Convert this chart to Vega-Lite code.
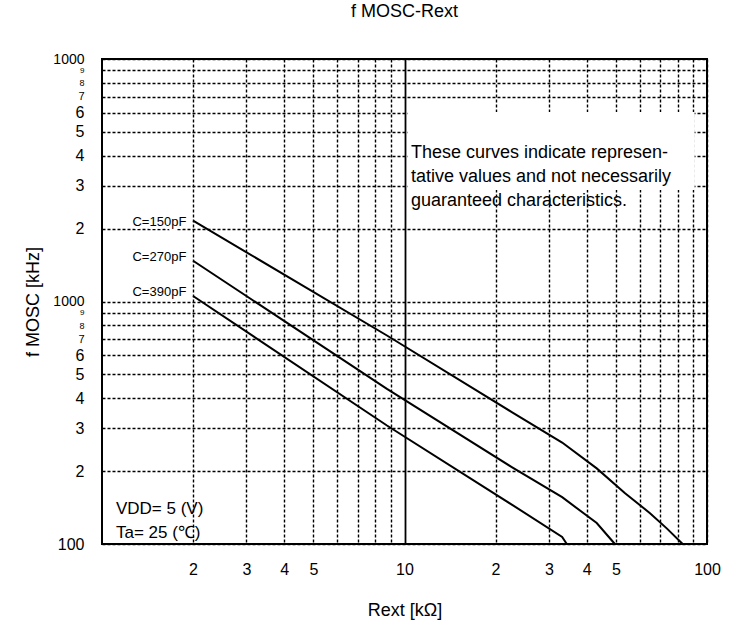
{
  "$schema": "https://vega.github.io/schema/vega-lite/v6.json",
  "width": 605,
  "height": 485,
  "autosize": {"type": "none"},
  "padding": {"left": 102, "top": 59, "right": 23, "bottom": 89},
  "background": "white",
  "config": {
    "font": "Liberation Sans",
    "view": {"stroke": "black", "strokeWidth": 2}
  },
  "title": {
    "text": "f MOSC-Rext",
    "fontSize": 18,
    "fontWeight": "normal",
    "font": "Liberation Sans",
    "color": "black",
    "anchor": "middle",
    "frame": "group",
    "offset": 31
  },
  "datasets": {
    "curves": [
      {"series": "C=150pF", "x": 2.0, "y": 2154},
      {"series": "C=150pF", "x": 8.75, "y": 724},
      {"series": "C=150pF", "x": 22.7, "y": 349},
      {"series": "C=150pF", "x": 33.2, "y": 262},
      {"series": "C=150pF", "x": 43.2, "y": 205},
      {"series": "C=150pF", "x": 53.6, "y": 162},
      {"series": "C=150pF", "x": 64.8, "y": 134},
      {"series": "C=150pF", "x": 73.6, "y": 116},
      {"series": "C=150pF", "x": 83.1, "y": 100},
      {"series": "C=270pF", "x": 2.0, "y": 1473},
      {"series": "C=270pF", "x": 8.75, "y": 436},
      {"series": "C=270pF", "x": 22.7, "y": 207},
      {"series": "C=270pF", "x": 33.2, "y": 156},
      {"series": "C=270pF", "x": 43.2, "y": 122},
      {"series": "C=270pF", "x": 49.6, "y": 100},
      {"series": "C=390pF", "x": 2.0, "y": 1054},
      {"series": "C=390pF", "x": 8.75, "y": 308},
      {"series": "C=390pF", "x": 22.7, "y": 145},
      {"series": "C=390pF", "x": 33.2, "y": 107},
      {"series": "C=390pF", "x": 34.4, "y": 100}
    ],
    "labels": [
      {"text": "C=150pF", "x": 1.9, "y": 2127},
      {"text": "C=270pF", "x": 1.9, "y": 1526},
      {"text": "C=390pF", "x": 1.9, "y": 1094}
    ],
    "notebox": [{"x": 10.25, "x2": 91, "y": 2880, "y2": 6050}],
    "note": [{"text": "These curves indicate represen-\ntative values and not necessarily\nguaranteed characteristics.", "x": 10.5, "y": 4100}],
    "conditions": [{"text": "VDD= 5 (V)\nTa=  25 (℃)", "x": 1.112, "y": 139.4}]
  },
  "encoding": {
    "x": {
      "field": "x",
      "type": "quantitative",
      "scale": {"type": "log", "domain": [1, 100], "nice": false},
      "axis": {
        "title": "Rext [kΩ]",
        "values": [2, 3, 4, 5, 6, 7, 8, 9, 10, 20, 30, 40, 50, 60, 70, 80, 90, 100],
        "labelExpr": "datum.value == 10 ? '10' : datum.value == 100 ? '100' : (datum.value >= 2 && datum.value <= 5) ? format(datum.value, 'd') : (datum.value >= 20 && datum.value <= 50) ? format(datum.value / 10, 'd') : ''",
        "ticks": false,
        "domain": false,
        "grid": true,
        "gridColor": "black",
        "gridOpacity": 1,
        "gridWidth": {"condition": {"test": "datum.value == 10", "value": 1.8}, "value": 1.4},
        "gridDash": {"condition": {"test": "datum.value == 10", "value": []}, "value": [3, 2]},
        "labelFont": "Liberation Sans",
        "labelFontSize": 16,
        "labelColor": "black",
        "labelPadding": 17,
        "labelOverlap": false,
        "labelFlush": false,
        "titleFont": "Liberation Sans",
        "titleFontSize": 18,
        "titleFontWeight": "normal",
        "titleColor": "black",
        "titlePadding": 24
      }
    },
    "y": {
      "field": "y",
      "type": "quantitative",
      "scale": {"type": "log", "domain": [100, 10000], "nice": false},
      "axis": {
        "title": "f MOSC [kHz]",
        "values": [100, 200, 300, 400, 500, 600, 700, 800, 900, 1000, 2000, 3000, 4000, 5000, 6000, 7000, 8000, 9000, 10000],
        "labelExpr": "datum.value == 100 ? '100' : datum.value == 1000 ? '1000' : datum.value == 10000 ? '1000' : datum.value < 1000 ? format(datum.value / 100, 'd') : format(datum.value / 1000, 'd')",
        "ticks": false,
        "domain": false,
        "grid": true,
        "gridColor": "black",
        "gridOpacity": 1,
        "gridWidth": 1.4,
        "gridDash": [3, 2],
        "labelFont": "Liberation Sans",
        "labelFontSize": {"condition": [
          {"test": "datum.value == 900 || datum.value == 9000", "value": 8},
          {"test": "datum.value == 800 || datum.value == 8000", "value": 9},
          {"test": "datum.value == 700 || datum.value == 7000", "value": 11},
          {"test": "datum.value == 1000 || datum.value == 10000", "value": 14}
        ], "value": 16},
        "labelColor": "black",
        "labelPadding": 18,
        "labelOverlap": false,
        "labelFlush": false,
        "titleFont": "Liberation Sans",
        "titleFontSize": 18,
        "titleFontWeight": "normal",
        "titleColor": "black",
        "titlePadding": 10
      }
    }
  },
  "layer": [
    {
      "data": {"name": "notebox"},
      "mark": {"type": "rect", "fill": "white", "stroke": null},
      "encoding": {"x2": {"field": "x2"}, "y2": {"field": "y2"}}
    },
    {
      "data": {"name": "curves"},
      "mark": {"type": "line", "color": "black", "strokeWidth": 2, "interpolate": "linear"},
      "encoding": {"detail": {"field": "series", "type": "nominal"}}
    },
    {
      "data": {"name": "labels"},
      "mark": {"type": "text", "align": "right", "baseline": "middle", "fontSize": 13, "fill": "white", "stroke": "white", "strokeWidth": 6, "strokeJoin": "round"},
      "encoding": {"text": {"field": "text", "type": "nominal"}}
    },
    {
      "data": {"name": "labels"},
      "mark": {"type": "text", "align": "right", "baseline": "middle", "fontSize": 13, "color": "black"},
      "encoding": {"text": {"field": "text", "type": "nominal"}}
    },
    {
      "data": {"name": "note"},
      "mark": {"type": "text", "align": "left", "baseline": "middle", "fontSize": 18, "lineHeight": 24, "lineBreak": "\n", "color": "black"},
      "encoding": {"text": {"field": "text", "type": "nominal"}}
    },
    {
      "data": {"name": "conditions"},
      "mark": {"type": "text", "align": "left", "baseline": "middle", "fontSize": 17, "lineHeight": 24, "lineBreak": "\n", "color": "black"},
      "encoding": {"text": {"field": "text", "type": "nominal"}}
    }
  ]
}
